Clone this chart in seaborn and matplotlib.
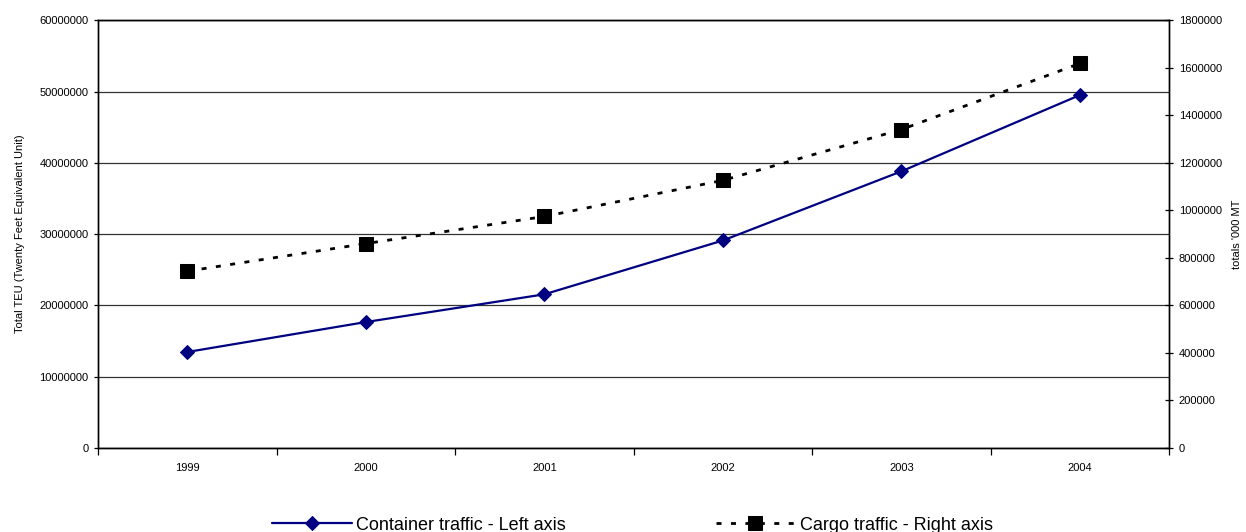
import matplotlib
matplotlib.use("Agg")
import matplotlib.pyplot as plt
from matplotlib.ticker import FixedLocator, MultipleLocator
import seaborn as sns
import pandas as pd

# Port traffic series
years = ["1999", "2000", "2001", "2002", "2003", "2004"]
container_teu = [13460000, 17660000, 21550000, 29100000, 38800000, 49500000]
cargo_kmt = [744000, 860000, 974000, 1126000, 1340000, 1618000]

sns.set_style("white")
plt.rcParams["font.family"] = ["Liberation Sans", "DejaVu Sans"]
plt.rcParams["text.color"] = "black"
plt.rcParams["axes.labelcolor"] = "black"
plt.rcParams["xtick.color"] = "black"
plt.rcParams["ytick.color"] = "black"

df = pd.DataFrame({"year": years, "container": container_teu, "cargo": cargo_kmt})

fig = plt.figure(figsize=(12.46, 5.32), dpi=100)
ax = fig.add_axes([0.0787, 0.158, 0.8596, 0.804])
ax2 = ax.twinx()

navy = "#000080"
sns.lineplot(data=df, x="year", y="container", ax=ax, sort=False, color=navy,
             linewidth=1.6, marker="D", markersize=7.5, markeredgecolor=navy,
             markerfacecolor=navy, label="Container traffic - Left axis", legend=False)
sns.lineplot(data=df, x="year", y="cargo", ax=ax2, sort=False, color="black",
             linewidth=2.0, marker="s", markersize=9.5, markeredgecolor="black",
             markerfacecolor="black", dashes=False, label="Cargo traffic - Right axis",
             legend=False)
ax2.lines[0].set_dashes((1.8, 3.4))

ax.set_xlim(-0.5, 5.5)
ax.set_ylim(0, 60000000)
ax2.set_ylim(0, 1800000)

ax.yaxis.set_major_locator(MultipleLocator(10000000))
ax2.yaxis.set_major_locator(MultipleLocator(200000))
ax.ticklabel_format(axis="y", style="plain", useOffset=False)
ax2.ticklabel_format(axis="y", style="plain", useOffset=False)

ax.grid(axis="y", color="#333333", linewidth=0.9)
ax.grid(axis="x", visible=False)
ax2.grid(False)

# Category boundaries carry the tick marks, labels sit at the centres
ax.xaxis.set_minor_locator(FixedLocator([i - 0.5 for i in range(len(years) + 1)]))
ax.tick_params(axis="x", which="major", length=0, pad=11, labelsize=8)
ax.tick_params(axis="x", which="minor", length=5, width=0.9, direction="out", color="black", bottom=True)
ax.tick_params(axis="y", length=3, width=0.9, direction="out", color="black", labelsize=8, left=True, pad=4)
ax2.tick_params(axis="y", length=6, width=0.9, direction="inout", color="black", labelsize=8, right=True, pad=4)

for a in (ax, ax2):
    for s in a.spines.values():
        s.set_color("black")
        s.set_linewidth(1.0)

ax.set_xlabel("")
ax.set_ylabel("Total TEU (Twenty Feet Equivalent Unit)", fontsize=8, labelpad=10)
ax2.set_ylabel("totals '000 MT", fontsize=8, labelpad=7)

h1, l1 = ax.get_legend_handles_labels()
h2, l2 = ax2.get_legend_handles_labels()
fig.legend(h1 + h2, l1 + l2, loc="center", bbox_to_anchor=(0.5076, 0.013), ncol=2,
           frameon=False, fontsize=13, handlelength=4.4, handletextpad=0.25,
           columnspacing=8.3)

fig.savefig("out.png", dpi=100)
